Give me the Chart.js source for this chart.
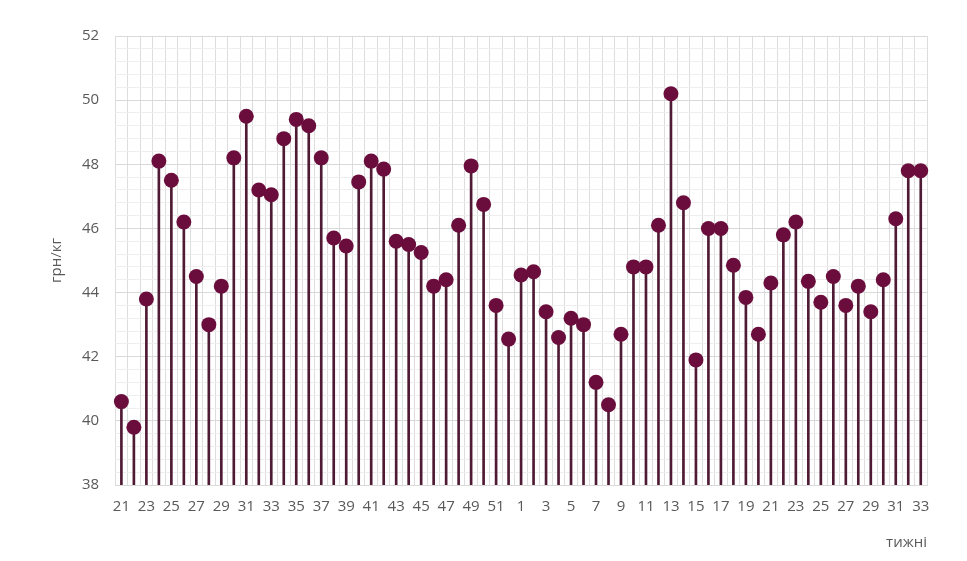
<!DOCTYPE html>
<html>
<head>
<meta charset="utf-8">
<script src="https://cdn.jsdelivr.net/npm/chart.js@4"></script>
<style>
  html, body { margin: 0; padding: 0; background: #fff; }
  #wrap { width: 967px; height: 561px; }
</style>
</head>
<body>
<div id="wrap"><canvas id="chart"></canvas></div>
<script>
const weeks = [21, 22, 23, 24, 25, 26, 27, 28, 29, 30, 31, 32, 33, 34, 35, 36, 37, 38, 39, 40,
  41, 42, 43, 44, 45, 46, 47, 48, 49, 50, 51, 52,
  1, 2, 3, 4, 5, 6, 7, 8, 9, 10, 11, 12, 13, 14, 15, 16, 17, 18, 19, 20,
  21, 22, 23, 24, 25, 26, 27, 28, 29, 30, 31, 32, 33];

const prices = [40.6, 39.8, 43.8, 48.1, 47.5, 46.2, 44.5, 43.0, 44.2, 48.2, 49.5, 47.2, 47.05, 48.8, 49.4, 49.2,
  48.2, 45.7, 45.45, 47.45, 48.1, 47.85, 45.6, 45.5, 45.25, 44.2, 44.4, 46.1, 47.95, 46.75, 43.6, 42.55,
  44.55, 44.65, 43.4, 42.6, 43.2, 43.0, 41.2, 40.5, 42.7, 44.8, 44.8, 46.1, 50.2, 46.8, 41.9, 46.0,
  46.0, 44.85, 43.85, 42.7, 44.3, 45.8, 46.2, 44.35, 43.7, 44.5, 43.6, 44.2, 43.4, 44.4, 46.3, 47.8, 47.8];

const yMin = 38;
const yMax = 52;

const isMajor = (v) => Math.abs(v - Math.round(v / 2) * 2) < 1e-6;

new Chart(document.getElementById("chart").getContext("2d"), {
  type: "bar",
  data: {
    labels: weeks,
    datasets: [
      {
        type: "line",
        label: "dots",
        data: prices,
        showLine: false,
        pointRadius: 7.5,
        pointHoverRadius: 7.5,
        pointBackgroundColor: "#6b0d3c",
        pointBorderColor: "#6b0d3c",
        pointBorderWidth: 0,
        order: 0,
      },
      {
        label: "stems",
        data: prices,
        backgroundColor: "#4f1a33",
        barThickness: 2,
        order: 1,
      },
    ],
  },
  options: {
    responsive: true,
    maintainAspectRatio: false,
    animation: false,
    layout: { padding: { top: 36, right: 40, bottom: 5, left: 48 } },
    plugins: {
      legend: { display: false },
      tooltip: { enabled: false },
    },
    scales: {
      x: {
        offset: true,
        grid: { offset: true, color: "#dddddd", drawTicks: false },
        border: { color: "#d9d9d9" },
        ticks: {
          autoSkip: false,
          maxRotation: 0,
          padding: 13,
          color: "#595959",
          font: { family: "Open Sans", size: 15 },
          callback: function (value, index) {
            return index % 2 === 0 ? this.getLabelForValue(value) : "";
          },
        },
        title: {
          display: true,
          text: "тижні",
          align: "end",
          color: "#595959",
          font: { family: "Open Sans", size: 15 },
          padding: { top: 5 },
        },
      },
      y: {
        min: yMin,
        max: yMax,
        grid: {
          drawTicks: false,
          color: (ctx) => (isMajor(ctx.tick.value) ? "#d9d9d9" : "#eeeeee"),
        },
        border: { display: false },
        ticks: {
          stepSize: 0.4,
          autoSkip: false,
          padding: 16,
          color: "#595959",
          font: { family: "Open Sans", size: 15 },
          callback: (v) => (isMajor(v) ? Math.round(v) : ""),
        },
        title: {
          display: true,
          text: "грн/кг",
          color: "#595959",
          font: { family: "Open Sans", size: 15 },
          padding: { top: 0, bottom: 0 },
        },
      },
    },
  },
});
</script>
</body>
</html>
